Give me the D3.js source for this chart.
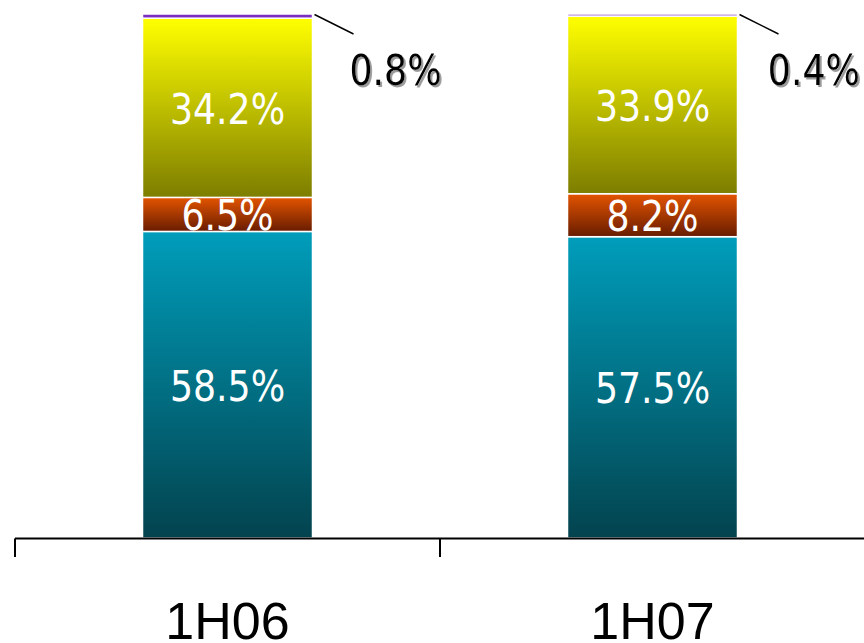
<!DOCTYPE html>
<html>
<head>
<meta charset="utf-8">
<script src="https://cdn.jsdelivr.net/npm/d3@7"></script>
<style>
  html, body { margin: 0; padding: 0; background: #ffffff; }
  svg { display: block; }
</style>
</head>
<body>
<svg id="chart" width="864" height="643"></svg>
<script>
// Half-year periods along the x axis
const periods = ["1H06", "1H07"];
// Share of each component, bottom to top (percent)
const seriesNames = ["teal", "red", "yellow", "purple"];
const tealValues   = [58.5, 57.5];
const redValues    = [6.5, 8.2];
const yellowValues = [34.2, 33.9];
const purpleValues = [0.8, 0.4];

// Gradient stops (top colour, bottom colour) for each component
const gradients = {
  teal:   ["#009dbb", "#03434e"],
  red:    ["#e45400", "#681c00"],
  yellow: ["#ffff00", "#7d7d00"],
  purple: ["#7b2fc0", "#7b2fc0"]
};

const rows = periods.map((p, i) => ({
  period: p,
  teal: tealValues[i],
  red: redValues[i],
  yellow: yellowValues[i],
  purple: purpleValues[i]
}));

const W = 864;
const svg = d3.select("#chart");
const defs = svg.append("defs");

Object.entries(gradients).forEach(([key, [top, bottom]]) => {
  const g = defs.append("linearGradient")
    .attr("id", "grad-" + key)
    .attr("x1", 0).attr("y1", 0).attr("x2", 0).attr("y2", 1);
  g.append("stop").attr("offset", "0%").attr("stop-color", top);
  g.append("stop").attr("offset", "100%").attr("stop-color", bottom);
});

const shadow = defs.append("filter").attr("id", "shadow")
  .attr("x", "-10%").attr("y", "-10%").attr("width", "130%").attr("height", "130%");
shadow.append("feDropShadow")
  .attr("dx", 2).attr("dy", 2).attr("stdDeviation", 0.6)
  .attr("flood-color", "#9a9a9a").attr("flood-opacity", 1);

const x = d3.scaleBand()
  .domain(periods)
  .range([15, 865])
  .paddingInner(0.6)
  .paddingOuter(0.3);

const y = d3.scaleLinear()
  .domain([0, 100])
  .range([538, 14]);

const stack = d3.stack().keys(seriesNames);
const layers = stack(rows);

// Narrow lettering for the percentage labels
const valueFont = "'DejaVu Sans Condensed', 'DejaVu Sans', sans-serif";
const valueSize = 42;
const squeeze = 0.96;

// Stacked bar segments
const layerG = svg.append("g").selectAll("g")
  .data(layers)
  .join("g")
  .attr("fill", d => `url(#grad-${d.key})`);

layerG.selectAll("rect")
  .data(d => d)
  .join("rect")
  .attr("x", d => x(d.data.period))
  .attr("y", d => y(d[1]))
  .attr("width", x.bandwidth())
  .attr("height", d => y(d[0]) - y(d[1]))
  .attr("stroke", "#ffffff")
  .attr("stroke-width", 1.5);

// White labels inside the larger segments
const inner = layers.filter(l => l.key !== "purple");
inner.forEach(layer => {
  svg.append("g").selectAll("text")
    .data(layer)
    .join("text")
    .attr("transform", d => {
      const cx = x(d.data.period) + x.bandwidth() / 2;
      const cy = (y(d[0]) + y(d[1])) / 2 + 16;
      return `translate(${cx},${cy}) scale(${squeeze},1)`;
    })
    .attr("text-anchor", "middle")
    .attr("fill", "#ffffff")
    .attr("font-family", valueFont)
    .attr("font-size", valueSize)
    .text(d => d.data[layer.key].toFixed(1) + "%");
});

// Leader lines and outside labels for the thin top segment
const topLayer = layers.find(l => l.key === "purple");
const outer = svg.append("g");
outer.selectAll("line")
  .data(topLayer)
  .join("line")
  .attr("x1", d => x(d.data.period) + x.bandwidth() + 2)
  .attr("y1", d => y(d[1]) + 0.5)
  .attr("x2", d => x(d.data.period) + x.bandwidth() + 41)
  .attr("y2", d => y(d[1]) + 20)
  .attr("stroke", "#000000")
  .attr("stroke-width", 1.5);

const outerText = outer.selectAll("text")
  .data(topLayer)
  .join("text")
  .attr("fill", "#000000")
  .attr("font-family", valueFont)
  .attr("font-size", valueSize)
  .attr("filter", "url(#shadow)")
  .text(d => d.data.purple.toFixed(1) + "%");

// Place each outside label beside its leader, kept inside the right edge
outerText.attr("transform", function (d) {
  const w = this.getComputedTextLength() * squeeze;
  const lx = Math.min(x(d.data.period) + x.bandwidth() + 37, W - w - 4);
  return `translate(${lx},85) scale(${squeeze},1)`;
});

// Category axis: baseline, boundary ticks and period labels
const axisY = 538.5;
const bounds = d3.range(periods.length + 1).map(i => x.range()[0] + i * x.step());
const axis = svg.append("g");
axis.append("line")
  .attr("x1", bounds[0]).attr("x2", W)
  .attr("y1", axisY).attr("y2", axisY)
  .attr("stroke", "#000000").attr("stroke-width", 2);
axis.selectAll("line.tick")
  .data(bounds)
  .join("line")
  .attr("class", "tick")
  .attr("x1", d => d).attr("x2", d => d)
  .attr("y1", axisY).attr("y2", 557)
  .attr("stroke", "#000000").attr("stroke-width", 2);
axis.selectAll("text")
  .data(periods)
  .join("text")
  .attr("x", d => x(d) + x.bandwidth() / 2)
  .attr("y", 639)
  .attr("text-anchor", "middle")
  .attr("fill", "#000000")
  .attr("font-family", "'Liberation Sans', Arial, sans-serif")
  .attr("font-size", 52)
  .text(d => d);
</script>
</body>
</html>
